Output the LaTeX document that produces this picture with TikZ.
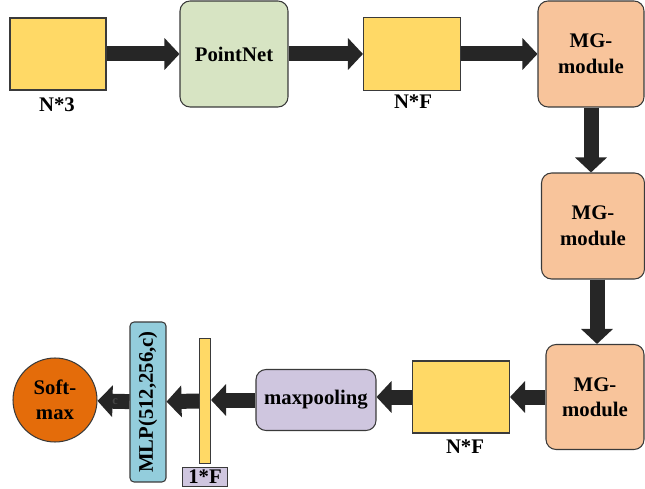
\documentclass[tikz,border=0pt]{standalone}
\usepackage{fontspec}
\setmainfont{Liberation Serif}
\usetikzlibrary{arrows.meta, positioning, calc}
\definecolor{dfyellow}{HTML}{FFD966}
\definecolor{dfgreen}{HTML}{D7E4C3}
\definecolor{dfpeach}{HTML}{F8C49B}
\definecolor{dflavender}{HTML}{CFC6DF}
\definecolor{dfblue}{HTML}{93CDDC}
\definecolor{dforange}{HTML}{E46C0A}
\definecolor{dfarrow}{HTML}{262626}
\definecolor{dfborder}{HTML}{3A3A3A}

\tikzset{
    databox/.style={draw=dfborder, line width=0.6pt, fill=dfyellow, inner sep=0pt},
    netbox/.style={draw=dfborder, line width=0.6pt, rounded corners=0.2cm, align=center, font=\rmfamily\fontsize{11.8}{14.5}\selectfont\bfseries},
    fatarrow/.style={draw=dfarrow, line width=0.3cm, -{Triangle[length=0.3cm, width=0.62cm]}},
    dimlabel/.style={font=\rmfamily\fontsize{11.8}{14}\selectfont\bfseries}
}

\begin{document}
\begin{tikzpicture}[x=0.02cm, y=-0.02cm]
        \useasboundingbox (0,0) rectangle (645,489);

        % top row
        \node[databox, minimum width=1.92cm, minimum height=1.44cm] (in3) at (58, 54) {};
        \node[dimlabel] (in3lbl) at (57, 105) {N*3};
        \node[netbox, fill=dfgreen, minimum width=2.16cm, minimum height=2.12cm] (pointnet) at (234, 54) {PointNet};
        \node[databox, minimum width=1.94cm, minimum height=1.46cm] (nfa) at (412, 54) {};
        \node[dimlabel] (nfalbl) at (413, 102) {N*F};
        \node[netbox, fill=dfpeach, minimum width=2.12cm, minimum height=2.12cm] (mga) at (591, 54) {MG-\\module};

        % right column
        \node[netbox, fill=dfpeach, minimum width=2.06cm, minimum height=2.12cm] (mgb) at (593, 226) {MG-\\module};
        \node[netbox, fill=dfpeach, minimum width=1.96cm, minimum height=2.1cm] (mgc) at (595, 397) {MG-\\module};

        % bottom row
        \node[databox, minimum width=1.94cm, minimum height=1.44cm] (nfb) at (461, 397) {};
        \node[dimlabel] (nfblbl) at (465, 447) {N*F};
        \node[netbox, fill=dflavender, minimum width=2.4cm, minimum height=1.22cm] (maxpool) at (316, 400) {maxpooling};
        \node[databox, minimum width=0.22cm, minimum height=2.5cm] (bar) at (205, 401) {};
        \node[draw=dfborder, line width=0.6pt, fill=dflavender, minimum width=0.9cm, minimum height=0.38cm, inner sep=0pt, dimlabel] (barlbl) at (205, 477) {1*F};
        \node[netbox, fill=dfblue, rounded corners=0.08cm, rotate=90, minimum width=3.2cm, minimum height=0.72cm, inner sep=0pt] (mlp) at (148, 402) {MLP(512,256,c)};
        \node[draw=dfborder, line width=0.6pt, circle, fill=dforange, minimum size=1.68cm, inner sep=0pt, align=center, font=\rmfamily\fontsize{11.8}{14.5}\selectfont\bfseries] (softmax) at (55, 400) {Soft-\\max};

        \draw[fatarrow] (in3.east) -- (in3.east -| pointnet.west);
        \draw[fatarrow] (pointnet.east) -- (pointnet.east -| nfa.west);
        \draw[fatarrow] (nfa.east) -- (nfa.east -| mga.west);
        \draw[fatarrow] (mga.south) -- (mga.south |- mgb.north);
        \draw[fatarrow] ([xshift=0.08cm]mgb.south) -- ([xshift=0.08cm]mgb.south |- mgc.north);
        \draw[fatarrow] (mgc.west) -- (mgc.west -| nfb.east);
        \draw[fatarrow] (nfb.west) -- (nfb.west -| maxpool.east);
        \draw[fatarrow] (maxpool.west) -- (maxpool.west -| bar.east);
        \draw[fatarrow] (bar.west) -- (mlp);
        \draw[fatarrow] (mlp) -- node[pos=0.45, text=gray!55!black, font=\rmfamily\fontsize{7}{8}\selectfont\bfseries, inner sep=0pt] {c} (softmax);

    \end{tikzpicture}
\end{document}
